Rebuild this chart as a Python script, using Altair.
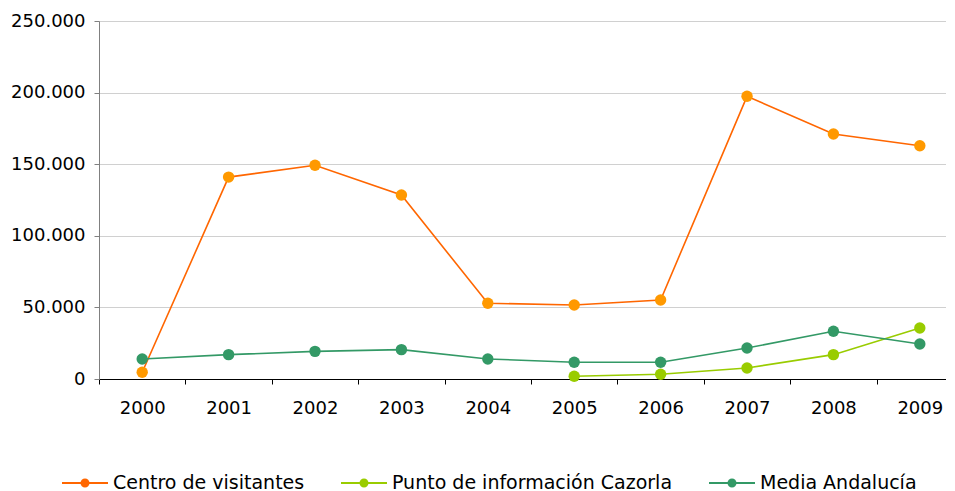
import altair as alt
import pandas as pd

years = [2000, 2001, 2002, 2003, 2004, 2005, 2006, 2007, 2008, 2009]
centro = [4700, 141000, 149300, 128500, 52900, 51700, 55200, 197400, 171100, 162900]
punto_years = [2005, 2006, 2007, 2008, 2009]
punto = [1900, 3300, 7700, 17000, 35600]
media = [14000, 17000, 19300, 20500, 14000, 11700, 11700, 21600, 33300, 24400]

series = ["Centro de visitantes", "Punto de información Cazorla", "Media Andalucía"]
line_colors = ["#FF6600", "#99CC00", "#339966"]
marker_colors = ["#FF9900", "#99CC00", "#339966"]

rows = []
for y, v in zip(years, centro):
    rows.append({"year": y, "value": v, "serie": series[0]})
for y, v in zip(punto_years, punto):
    rows.append({"year": y, "value": v, "serie": series[1]})
for y, v in zip(years, media):
    rows.append({"year": y, "value": v, "serie": series[2]})
df = pd.DataFrame(rows)

boundaries = [y - 0.5 for y in years]

FONT = "DejaVu Sans"
XSCALE = alt.Scale(domain=[1999.5, 2009.303], nice=False, zero=False)

y_enc = alt.Y(
    "value:Q",
    scale=alt.Scale(domain=[0, 250000], nice=False),
    axis=alt.Axis(
        title=None,
        values=[0, 50000, 100000, 150000, 200000, 250000],
        labelExpr="replace(format(datum.value, ','), ',', '.')",
        gridColor="#D0D0D0",
        domainColor="#808080",
        tickColor="#808080",
        tickSize=5,
        labelPadding=9,
        labelFontSize=18,
        labelColor="#000000",
        labelFont=FONT,
    ),
)

r1, r2, r3 = 0.0435, 0.1087, 0.152
def circ(r):
    return f"M{r},0A{r},{r},0,1,1,{-r},0A{r},{r},0,1,1,{r},0"
sym_path = "M-1,0L1,0" + circ(r1) + circ(r2) + circ(r3)

lines = alt.Chart(df).mark_line(strokeWidth=1.6).encode(
    x=alt.X(
        "year:Q",
        scale=XSCALE,
        axis=alt.Axis(
            title=None,
            orient="bottom",
            values=boundaries,
            labels=False,
            grid=False,
            domainColor="#000000",
            tickColor="#000000",
            tickSize=5,
        ),
    ),
    y=y_enc,
    color=alt.Color(
        "serie:N",
        scale=alt.Scale(domain=series, range=line_colors),
        sort=series,
        legend=alt.Legend(
            title=None,
            orient="none",
            legendX=-38,
            legendY=438,
            direction="horizontal",
            symbolType=sym_path,
            symbolSize=2116,
            symbolStrokeWidth=2,
            labelFontSize=19,
            labelFont=FONT,
            labelColor="#000000",
            labelOffset=4,
            columnPadding=32,
            padding=0,
            labelLimit=400,
        ),
    ),
    detail="serie:N",
)

points = alt.Chart(df).mark_point(filled=True, size=130, opacity=1).encode(
    x=alt.X(
        "year:Q",
        scale=XSCALE,
        axis=alt.Axis(
            title=None,
            orient="bottom",
            values=years,
            format="d",
            grid=False,
            domain=False,
            ticks=False,
            labelOverlap=False,
            labelFlush=False,
            labelPadding=20,
            labelFontSize=18,
            labelColor="#000000",
            labelFont=FONT,
        ),
    ),
    y=y_enc,
    fill=alt.Fill(
        "serie:N",
        scale=alt.Scale(domain=series, range=marker_colors),
        legend=None,
    ),
)

chart = alt.layer(lines, points).resolve_scale(
    color="independent", fill="independent"
).resolve_axis(x="independent").properties(
    width=847,
    height=358,
    autosize=alt.AutoSizeParams(type="none"),
    padding={"left": 91, "top": 13, "right": 0, "bottom": 112},
).configure_view(stroke=None).configure(font=FONT)

chart.save("out.html", embed_options={"renderer": "svg", "actions": False})
